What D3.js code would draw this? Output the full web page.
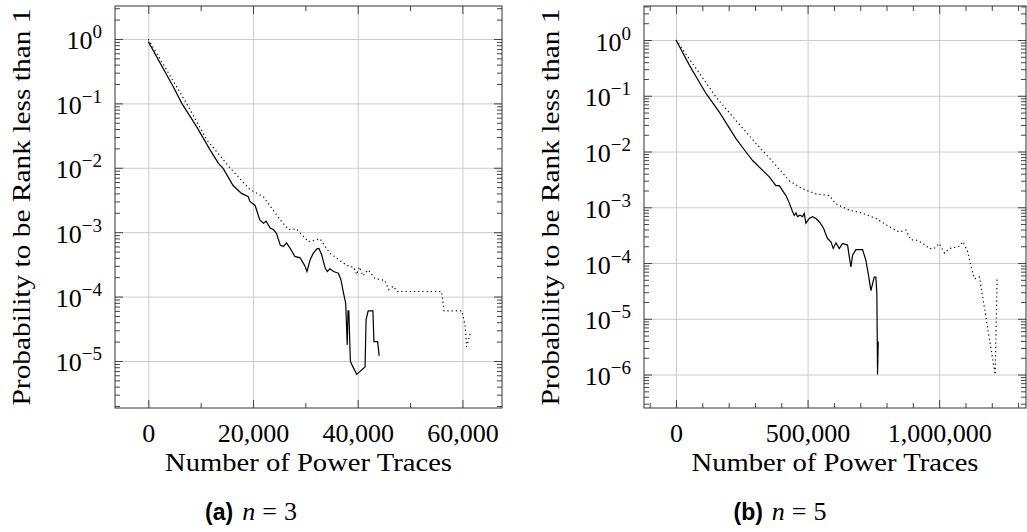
<!DOCTYPE html>
<html>
<head>
<meta charset="utf-8">
<script src="https://cdn.jsdelivr.net/npm/d3@7"></script>
<style>
  body { margin: 0; background: #fff; }
  svg { display: block; font-family: "Liberation Serif", "Times New Roman", serif; }
</style>
</head>
<body>
<script>
// Panel (a): n = 3, traces vs probability
const aSolidX = [0, 4800, 6400, 9200, 11800, 13400, 14300, 16200, 17800, 19100, 19400, 20400, 21300, 22000, 22500,
  23300, 23900, 24500, 25200, 25800, 26400, 27100, 28000, 29000, 29900, 30300, 30900, 31500, 32200, 32600,
  33100, 33800, 34200, 34700, 35400, 36300, 36800, 37300, 37700, 38000, 38150, 38300, 38600, 38900, 39800,
  41400, 41600, 42000, 42900, 43100, 43800, 44100];
const aSolidP = [0.91, 0.18, 0.1, 0.044, 0.019, 0.0117, 0.0098, 0.0053, 0.0040, 0.00355, 0.0030, 0.0026, 0.00155,
  0.00138, 0.00148, 0.00115, 0.0011, 0.00095, 0.00063, 0.0006, 0.00068, 0.00056, 0.00042, 0.0004, 0.0003,
  0.000245, 0.00037, 0.00047, 0.00055, 0.00056, 0.00045, 0.000275, 0.000245, 0.00027, 0.000245, 0.00023,
  0.000182, 0.000112, 0.000079, 0.0000178, 0.00006, 0.00006, 0.00001, 0.0000087, 0.0000062,
  0.0000081, 0.000044, 0.00006, 0.00006, 0.00002, 0.00002, 0.000012];
const aDotX = [0, 7300, 11200, 15600, 17500, 19400, 22000, 23600, 25200, 26800, 28300, 30600, 32800, 34700,
  37300, 38500, 39200, 39800, 40300, 41000, 42000, 43300, 45200, 45900, 46800, 47500, 56000, 56500, 59900,
  60500, 60800, 61500];
const aDotP = [0.99, 0.1, 0.027, 0.01, 0.0068, 0.0046, 0.00355, 0.00234, 0.00155, 0.0011, 0.00112, 0.00071,
  0.00079, 0.00047, 0.00033, 0.00029, 0.00029, 0.00022, 0.00029, 0.00021, 0.00026, 0.00019, 0.000178, 0.000129,
  0.000145, 0.00012, 0.00012, 0.00006, 0.00006, 0.000036, 0.0000166, 0.000027];

// Panel (b): n = 5
const bSolidX = [0, 50600, 113900, 164600, 227800, 265800, 291100, 329100, 354400, 379700, 392400, 417700,
  430400, 443000, 449400, 455700, 462000, 470900, 481000, 487300, 493700, 506300, 519000, 531600, 544300,
  557000, 563300, 569600, 576000, 588600, 597500, 607600, 620300, 632900, 651900, 658200, 664600, 670900,
  683500, 708900, 721500, 731600, 740500, 753200, 759500, 763300, 765800, 768400];
const bSolidP = [1.0, 0.355, 0.11, 0.051, 0.017, 0.0098, 0.0069, 0.0046, 0.0035, 0.00245, 0.00245, 0.00162,
  0.0012, 0.00083, 0.00072, 0.00079, 0.00068, 0.00072, 0.00068, 0.00078, 0.00052, 0.00063, 0.00068, 0.00063,
  0.00055, 0.00045, 0.00039, 0.00032, 0.000275, 0.00024, 0.000182, 0.00023, 0.000182, 0.000224, 0.00021,
  0.000132, 0.000085, 0.000138, 0.000174, 0.000174, 0.000112, 0.00006, 0.000032, 0.000056, 0.000056,
  0.000028, 0.000001, 0.0000039];
const bDotX = [0, 76000, 151900, 227800, 303800, 367100, 430400, 481000, 531600, 582300, 607600, 658200,
  708900, 759500, 810100, 848100, 873400, 892400, 911400, 936700, 962000, 981000, 1000000, 1020300, 1039200,
  1077200, 1089900, 1108900, 1121500, 1134200, 1153200, 1212700, 1220300];
const bDotP = [1.0, 0.31, 0.095, 0.036, 0.014, 0.0066, 0.003, 0.00214, 0.00174, 0.00162, 0.00115, 0.00089,
  0.00078, 0.00063, 0.00045, 0.00036, 0.00039, 0.00026, 0.00026, 0.00023, 0.000182, 0.000182, 0.000224,
  0.000151, 0.000182, 0.0002, 0.00024, 0.000158, 0.000085, 0.000052, 0.000056, 0.000001, 0.000056];

// Tick labels
const aXTicks = [0, 20000, 40000, 60000];
const aXMinor = [10000, 30000, 50000];
const bXTicks = [0, 500000, 1000000];
const bXMinor = [-100000, 100000, 200000, 300000, 400000, 600000, 700000, 800000, 900000, 1100000, 1200000, 1300000];
const aYTicks = [1, 1e-1, 1e-2, 1e-3, 1e-4, 1e-5];
const bYTicks = [1, 1e-1, 1e-2, 1e-3, 1e-4, 1e-5, 1e-6];

const xTitle = 'Number of Power Traces';
const yTitle = 'Probability to be Rank less than 1';

const svg = d3.select('body').append('svg').attr('width', 1027).attr('height', 532);

// minor log ticks 2..9 x 10^k inside a domain
function logMinor(domain) {
  const out = [];
  const lo = Math.floor(Math.log10(domain[0])), hi = Math.ceil(Math.log10(domain[1]));
  for (let k = lo; k <= hi; k++) {
    for (let m = 2; m <= 9; m++) {
      const v = m * Math.pow(10, k);
      if (v >= domain[0] && v <= domain[1]) out.push(v);
    }
  }
  return out;
}

function drawPanel(p) {
  const x = d3.scaleLinear().domain(p.xDomain).range([p.left, p.right]);
  const y = d3.scaleLog().domain(p.yDomain).range([p.bottom, p.top]);
  const w = p.right - p.left;
  const h = p.bottom - p.top;
  const g = svg.append('g');

  // grid lines
  g.append('g')
    .attr('transform', `translate(0,${p.bottom})`)
    .call(d3.axisBottom(x).tickValues(p.xTicks).tickSize(-h).tickFormat(''))
    .call((s) => s.select('.domain').remove())
    .selectAll('line').attr('stroke', '#cbcbcb');
  g.append('g')
    .attr('transform', `translate(${p.left},0)`)
    .call(d3.axisLeft(y).tickValues(p.yTicks).tickSize(-w).tickFormat(''))
    .call((s) => s.select('.domain').remove())
    .selectAll('line').attr('stroke', '#cbcbcb');

  // data lines
  const line = d3.line().x((d) => x(d[0])).y((d) => y(d[1]));
  g.append('path')
    .datum(d3.zip(p.dotX, p.dotP))
    .attr('d', line)
    .attr('fill', 'none')
    .attr('stroke', '#000')
    .attr('stroke-width', 1.2)
    .attr('stroke-dasharray', '1.2,3');
  g.append('path')
    .datum(d3.zip(p.solidX, p.solidP))
    .attr('d', line)
    .attr('fill', 'none')
    .attr('stroke', '#000')
    .attr('stroke-width', 1.2);

  // inward ticks on all four sides
  const tickColor = '#444';
  const addAxis = (axis, tx, ty) => g.append('g')
    .attr('transform', `translate(${tx},${ty})`)
    .call(axis)
    .call((s) => s.select('.domain').remove())
    .call((s) => s.selectAll('line').attr('stroke', tickColor));

  addAxis(d3.axisTop(x).tickValues(p.xTicks).tickSize(-8).tickFormat(''), 0, p.top);
  addAxis(d3.axisTop(x).tickValues(p.xMinor).tickSize(-5).tickFormat(''), 0, p.top);
  addAxis(d3.axisBottom(x).tickValues(p.xMinor).tickSize(-5).tickFormat(''), 0, p.bottom);
  addAxis(d3.axisRight(y).tickValues(p.yTicks).tickSize(-8).tickFormat(''), p.right, 0);
  addAxis(d3.axisRight(y).tickValues(logMinor(p.yDomain)).tickSize(-5).tickFormat(''), p.right, 0);
  addAxis(d3.axisLeft(y).tickValues(logMinor(p.yDomain)).tickSize(-5).tickFormat(''), p.left, 0);

  // bottom axis with labels
  const xAxisG = addAxis(
    d3.axisBottom(x).tickValues(p.xTicks).tickSize(-8).tickPadding(16).tickFormat(d3.format(',')),
    0, p.bottom);
  xAxisG.attr('font-family', null).attr('font-size', 26);
  xAxisG.selectAll('text').attr('fill', '#000');

  // left axis with 10^k labels
  const yAxisG = addAxis(
    d3.axisLeft(y).tickValues(p.yTicks).tickSize(-8).tickPadding(13).tickFormat(''),
    p.left, 0);
  yAxisG.attr('font-family', null).attr('font-size', 26);
  yAxisG.selectAll('.tick text').each(function (d) {
    const k = Math.round(Math.log10(d));
    const t = d3.select(this).attr('dy', 10).attr('fill', '#000');
    t.append('tspan').text('10');
    t.append('tspan')
      .attr('dy', -11)
      .attr('font-size', 19)
      .text(k === 0 ? '0' : '\u2212' + (-k));
  });

  // frame
  g.append('rect')
    .attr('x', p.left)
    .attr('y', p.top)
    .attr('width', w)
    .attr('height', h)
    .attr('fill', 'none')
    .attr('stroke', '#333')
    .attr('stroke-width', 1);

  // axis titles
  g.append('text')
    .attr('x', (p.left + p.right) / 2)
    .attr('y', 471)
    .attr('text-anchor', 'middle')
    .attr('font-size', 26)
    .attr('textLength', 287)
    .attr('lengthAdjust', 'spacingAndGlyphs')
    .text(xTitle);
  g.append('text')
    .attr('transform', `translate(${p.left - 85},${(p.top + p.bottom) / 2}) rotate(-90)`)
    .attr('text-anchor', 'middle')
    .attr('font-size', 26)
    .attr('textLength', 397)
    .attr('lengthAdjust', 'spacingAndGlyphs')
    .text(yTitle);

  // caption
  const cap = g.append('text')
    .attr('x', p.capX)
    .attr('y', 520)
    .attr('text-anchor', 'middle')
    .attr('font-size', 26);
  cap.append('tspan')
    .attr('font-family', '"Liberation Sans", Arial, sans-serif')
    .attr('font-weight', 'bold')
    .attr('font-size', 23)
    .text(p.capLabel);
  cap.append('tspan').attr('dx', 9).attr('font-style', 'italic').text('n');
  cap.append('tspan').attr('dx', 7).text('=');
  cap.append('tspan').attr('dx', 7).text(p.capN);
}

drawPanel({
  left: 115, right: 502, top: 6, bottom: 408,
  xDomain: [-6360, 67560], yDomain: [Math.pow(10, -5.73), Math.pow(10, 0.512)],
  xTicks: aXTicks, xMinor: aXMinor, yTicks: aYTicks,
  solidX: aSolidX, solidP: aSolidP, dotX: aDotX, dotP: aDotP,
  capX: 251, capLabel: '(a)', capN: '3'
});

drawPanel({
  left: 644, right: 1026, top: 6, bottom: 408,
  xDomain: [-121700, 1330000], yDomain: [Math.pow(10, -6.6), Math.pow(10, 0.61)],
  xTicks: bXTicks, xMinor: bXMinor, yTicks: bYTicks,
  solidX: bSolidX, solidP: bSolidP, dotX: bDotX, dotP: bDotP,
  capX: 780, capLabel: '(b)', capN: '5'
});
</script>
</body>
</html>
